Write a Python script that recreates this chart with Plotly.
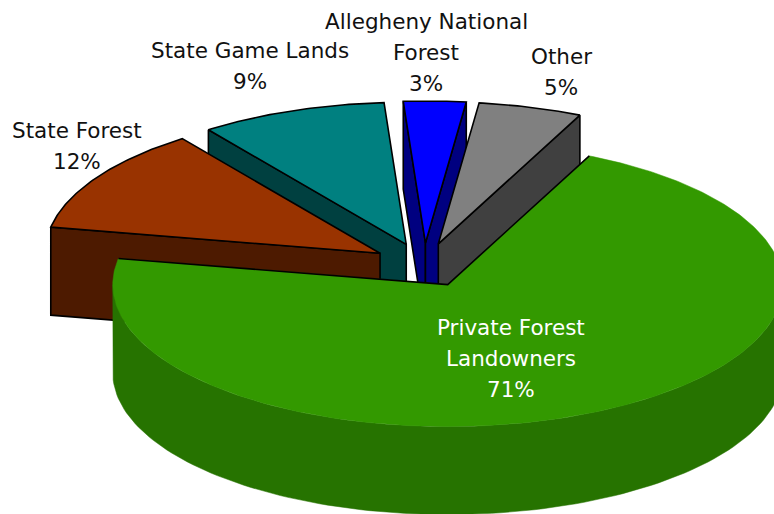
import math
import plotly.graph_objects as go

# Data
categories = ["Private Forest Landowners", "State Forest", "State Game Lands",
              "Allegheny National Forest", "Other"]
shares = [71, 12, 9, 3, 5]
label_lines = [["Private Forest", "Landowners", "71%"], ["State Forest", "12%"],
               ["State Game Lands", "9%"], ["Allegheny National", "Forest", "3%"], ["Other", "5%"]]

# Styling and layout
top_colors = ["#339900", "#993300", "#008080", "#0000FF", "#808080"]
side_colors = ["#267300", "#4D1A00", "#004040", "#000080", "#404040"]
label_colors = ["white", "#111111", "#111111", "#111111", "#111111"]
label_xy = [(511, 327), (77, 130), (250, 50), (426, 21), (561, 56)]
LINE_STEP = 31
W, H = 774, 514
CX, CY = 424, 265      # pie centre
RX, RY = 335, 142      # ellipse radii
DEPTH = 88
EXPLODE = 0.155
START = 25.0           # first slice starts here, degrees clockwise from up
DRAW_ORDER = [3, 4, 2, 1, 0]
LINE = 1.6


def point(c, t, r=1.0):
    a = math.radians(t)
    return c[0] + RX * r * math.sin(a), c[1] - RY * r * math.cos(a)


def poly(pts, fill, outline=True):
    xs = [p[0] for p in pts] + [pts[0][0]]
    ys = [p[1] for p in pts] + [pts[0][1]]
    return go.Scatter(x=xs, y=ys, mode="lines", fill="toself", fillcolor=fill,
                      line=dict(color="black" if outline else fill, width=LINE if outline else 0.5),
                      hoverinfo="skip", showlegend=False)


def down(p):
    return p[0], p[1] + DEPTH


spans = []
t = START
for s in shares:
    sweep = s / sum(shares) * 360
    spans.append((t, t + sweep))
    t += sweep

fig = go.Figure()
for i in DRAW_ORDER:
    t0, t1 = spans[i]
    mid = math.radians((t0 + t1) / 2)
    c = (CX + RX * EXPLODE * math.sin(mid), CY - RY * EXPLODE * math.cos(mid))
    is_front = i == 0
    p0, p1 = point(c, t0), point(c, t1)
    # cut faces
    if math.sin(math.radians(t0)) < 0:
        fig.add_trace(poly([p0, c, down(c), down(p0)], side_colors[i]))
    if math.sin(math.radians(t1)) > 0:
        fig.add_trace(poly([p1, c, down(c), down(p1)], side_colors[i]))
    # outer wall (the part of the rim that faces the viewer)
    a0, a1 = max(t0, 90), min(t1, 270)
    if a1 > a0:
        n = 120
        arc = [point(c, a0 + (a1 - a0) * k / n) for k in range(n + 1)]
        fig.add_trace(poly(arc + [down(p) for p in reversed(arc)], side_colors[i], outline=not is_front))
    # top face
    n = max(8, int((t1 - t0) * 1.5))
    arc = [point(c, t0 + (t1 - t0) * k / n) for k in range(n + 1)]
    fig.add_trace(poly([c] + arc, top_colors[i], outline=not is_front))
    if is_front:
        fig.add_trace(go.Scatter(x=[p0[0], c[0], p1[0]], y=[p0[1], c[1], p1[1]], mode="lines",
                                 line=dict(color="black", width=LINE), hoverinfo="skip", showlegend=False))

annotations = []
for (x, y), lines, col in zip(label_xy, label_lines, label_colors):
    for k, txt in enumerate(lines):
        annotations.append(dict(x=x, y=y + k * LINE_STEP, text=txt, showarrow=False, xref="x", yref="y",
                                font=dict(family="DejaVu Sans", size=21.5, color=col)))

fig.update_layout(width=W, height=H, margin=dict(l=0, r=0, t=0, b=0), autosize=False,
                  paper_bgcolor="white", plot_bgcolor="white", annotations=annotations,
                  xaxis=dict(range=[0, W], visible=False, fixedrange=True),
                  yaxis=dict(range=[H, 0], visible=False, fixedrange=True))
fig.write_html("out.html", config=dict(displayModeBar=False),
               post_script="document.body.style.margin='0';document.documentElement.style.overflow='hidden';")
